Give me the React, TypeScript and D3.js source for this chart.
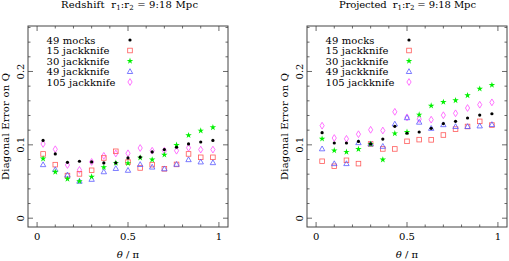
import React from "react";
import * as d3 from "d3";

const THETA = [0.033, 0.1, 0.167, 0.233, 0.3, 0.367, 0.433, 0.5, 0.567, 0.633, 0.7, 0.767, 0.833, 0.9, 0.967];

const SERIES_LABELS = ["49 mocks", "15 jackknife", "30 jackknife", "49 jackknife", "105 jackknife"];
const SERIES_KEYS = ["dot", "square", "star", "triangle", "diamond"];

// Redshift panel
const RZ_MOCKS = [0.106, 0.0876, 0.0762, 0.0776, 0.0767, 0.0753, 0.0755, 0.0821, 0.0833, 0.0903, 0.0935, 0.0967, 0.1012, 0.1039, 0.1060];
const RZ_JK15 = [0.0876, 0.0730, 0.0581, 0.0604, 0.0653, 0.0821, 0.0912, 0.0765, 0.0685, 0.0730, 0.0673, 0.0733, 0.0876, 0.0830, 0.0830];
const RZ_JK30 = [0.0812, 0.0631, 0.0536, 0.0504, 0.0565, 0.0694, 0.0753, 0.0750, 0.0825, 0.0798, 0.0865, 0.0998, 0.1130, 0.1193, 0.1238];
const RZ_JK49 = [0.0730, 0.0662, 0.0590, 0.0504, 0.0530, 0.0633, 0.0678, 0.0653, 0.0732, 0.0697, 0.0674, 0.0735, 0.0798, 0.0767, 0.0757];
const RZ_JK105 = [0.1012, 0.0940, 0.0725, 0.0658, 0.0767, 0.0850, 0.0882, 0.0885, 0.0957, 0.0920, 0.0920, 0.0920, 0.0960, 0.0935, 0.0935];

// Projected panel
const PR_MOCKS = [0.1166, 0.1025, 0.1025, 0.1046, 0.1012, 0.1078, 0.1252, 0.1158, 0.1175, 0.1225, 0.1290, 0.1320, 0.1366, 0.1406, 0.1424];
const PR_JK15 = [0.0776, 0.0708, 0.0789, 0.0744, 0.1012, 0.0944, 0.0944, 0.1048, 0.1071, 0.1068, 0.1134, 0.1214, 0.1250, 0.1320, 0.1270];
const PR_JK30 = [0.1082, 0.0923, 0.0903, 0.0941, 0.1012, 0.0798, 0.1155, 0.1175, 0.1411, 0.1533, 0.1583, 0.1606, 0.1674, 0.1764, 0.1815];
const PR_JK49 = [0.0946, 0.0744, 0.0744, 0.1030, 0.1012, 0.0980, 0.1284, 0.1370, 0.1309, 0.1225, 0.1275, 0.1250, 0.1250, 0.1258, 0.1277];
const PR_JK105 = [0.1261, 0.1093, 0.1082, 0.1145, 0.1205, 0.1195, 0.1450, 0.1375, 0.1350, 0.1343, 0.1404, 0.1430, 0.1502, 0.1547, 0.1579];

const PANEL_TITLES = ["Redshift", "Projected"];
const X_MAJOR = [0, 0.5, 1];
const X_MAJOR_LABELS = ["0", "0.5", "1"];
const Y_MAJOR = [0, 0.1, 0.2];
const Y_MAJOR_LABELS = ["0", "0.1", "0.2"];
const X_MINOR = [0, 0.1, 0.2, 0.3, 0.4, 0.5, 0.6, 0.7, 0.8, 0.9, 1];
const Y_MINOR = [0, 0.02, 0.04, 0.06, 0.08, 0.1, 0.12, 0.14, 0.16, 0.18, 0.2, 0.22, 0.24, 0.26];

const FONT = "DejaVu Serif";
const COLORS: Record<string, string> = {
  dot: "#000000",
  square: "#ff5a5a",
  star: "#00f000",
  triangle: "#5a5aff",
  diamond: "#ff50ff",
};

function Marker({ type, x, y }: { type: string; x: number; y: number }) {
  const c = COLORS[type];
  if (type === "dot") return <circle cx={x} cy={y} r={1.6} fill={c} />;
  if (type === "square")
    return <rect x={x - 2.3} y={y - 2.3} width={4.6} height={4.6} fill="none" stroke={c} strokeWidth={0.8} />;
  if (type === "star") {
    const p = d3.symbol(d3.symbolStar, 13)();
    return <path d={p || ""} transform={`translate(${x},${y})`} fill={c} />;
  }
  if (type === "triangle")
    return (
      <path
        d={`M${x},${y - 2.8}L${x + 2.7},${y + 2}L${x - 2.7},${y + 2}Z`}
        fill="none"
        stroke={c}
        strokeWidth={0.8}
      />
    );
  return (
    <path
      d={`M${x},${y - 3.4}L${x + 2.1},${y}L${x},${y + 3.4}L${x - 2.1},${y}Z`}
      fill="none"
      stroke={c}
      strokeWidth={0.8}
    />
  );
}

function Panel({ ox, title, series, titleX }: { ox: number; title: string; series: number[][]; titleX: number }) {
  const x = d3.scaleLinear().domain([-0.05, 1.05]).range([ox + 28, ox + 228]);
  const y = d3.scaleLinear().domain([-0.012, 0.262]).range([227, 26]);
  const [x0, x1] = x.range();
  const [yb, yt] = y.range();
  const frame = "#444";
  const cx = x(0.5);
  return (
    <g fontFamily={FONT} fill="#000">
      <text x={titleX} y={7.5} fontSize={10} textLength={137} lengthAdjust="spacing">
        <tspan>{title + "\u00A0\u00A0r"}</tspan>
        <tspan fontSize={7} dy={2}>1</tspan>
        <tspan dy={-2}>:r</tspan>
        <tspan fontSize={7} dy={2}>2</tspan>
        <tspan dy={-2}>{" = 9:18 Mpc"}</tspan>
      </text>
      <rect x={x0} y={yt} width={x1 - x0} height={yb - yt} fill="none" stroke={frame} strokeWidth={1} />
      {X_MINOR.map((v) => {
        const L = X_MAJOR.includes(v) ? 5 : 2.5;
        return (
          <g key={"xt" + v} stroke={frame} strokeWidth={0.8}>
            <line x1={x(v)} x2={x(v)} y1={yb} y2={yb - L} />
            <line x1={x(v)} x2={x(v)} y1={yt} y2={yt + L} />
          </g>
        );
      })}
      {Y_MINOR.map((v) => {
        const L = Y_MAJOR.includes(v) ? 5 : 2.5;
        return (
          <g key={"yt" + v} stroke={frame} strokeWidth={0.8}>
            <line x1={x0} x2={x0 + L} y1={y(v)} y2={y(v)} />
            <line x1={x1} x2={x1 - L} y1={y(v)} y2={y(v)} />
          </g>
        );
      })}
      {X_MAJOR.map((v, i) => (
        <text key={"xl" + v} x={x(v)} y={239.5} textAnchor="middle" fontSize={10}>
          {X_MAJOR_LABELS[i]}
        </text>
      ))}
      {Y_MAJOR.map((v, i) => (
        <text
          key={"yl" + v}
          transform={`translate(${ox + 23.5},${y(v)}) rotate(-90)`}
          textAnchor="middle"
          fontSize={10}
        >
          {Y_MAJOR_LABELS[i]}
        </text>
      ))}
      <text
        transform={`translate(${ox + 8.5},${(yb + yt) / 2 + 53.5}) rotate(-90)`}
        fontSize={10}
        textLength={107}
        lengthAdjust="spacing"
      >
        Diagonal Error on Q
      </text>
      <text x={cx} y={258} textAnchor="middle" fontSize={10}>
        <tspan fontStyle="italic">θ</tspan>
        {" / π"}
      </text>
      {SERIES_LABELS.map((lab, i) => {
        const by = 43.5 + i * 10.5;
        const w = i === 0 ? 49 : i === 4 ? 69 : 63;
        return (
          <g key={lab}>
            <text x={ox + 46.5} y={by} fontSize={10} textLength={w} lengthAdjust="spacing">
              {lab}
            </text>
            <Marker type={SERIES_KEYS[i]} x={ox + 130} y={by - 3.5} />
          </g>
        );
      })}
      {[4, 1, 3, 2, 0].map((si) =>
        series[si].map((v, j) => (
          <Marker key={si + "-" + j} type={SERIES_KEYS[si]} x={x(THETA[j])} y={y(v)} />
        ))
      )}
    </g>
  );
}

export default function App() {
  return (
    <svg width={509} height={261} style={{ position: "absolute", left: 0, top: 0, background: "#fff" }}>
      <rect width={509} height={261} fill="#fff" />
      <Panel ox={0} titleX={61} title={PANEL_TITLES[0]} series={[RZ_MOCKS, RZ_JK15, RZ_JK30, RZ_JK49, RZ_JK105]} />
      <Panel ox={279} titleX={339} title={PANEL_TITLES[1]} series={[PR_MOCKS, PR_JK15, PR_JK30, PR_JK49, PR_JK105]} />
    </svg>
  );
}
